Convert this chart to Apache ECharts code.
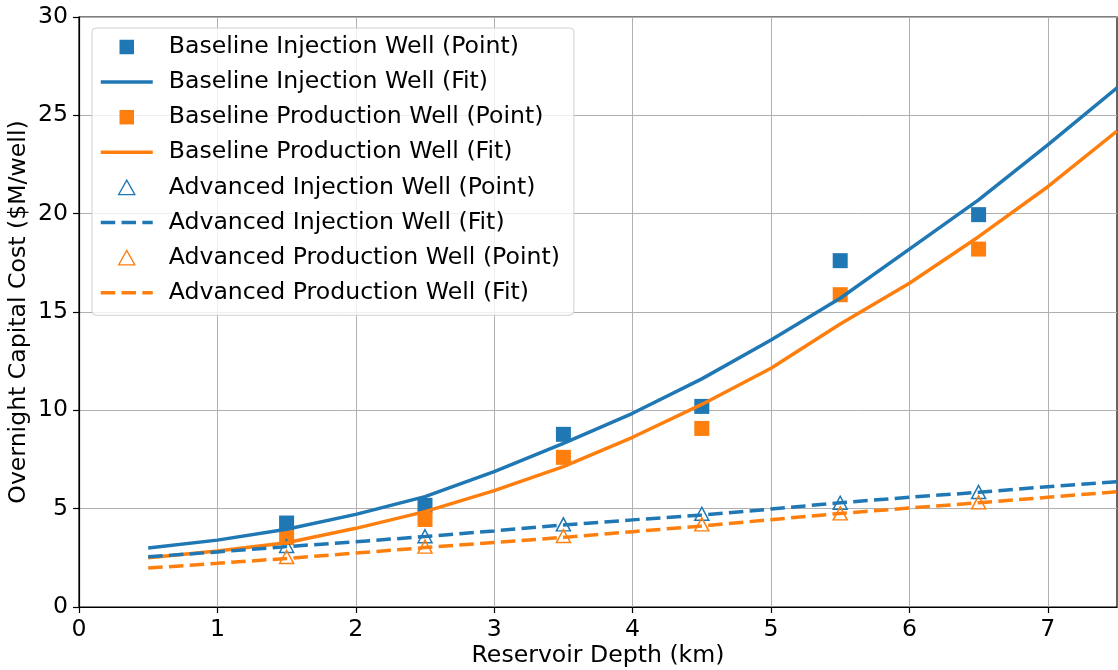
<!DOCTYPE html>
<html>
<head>
<meta charset="utf-8">
<script src="https://cdn.jsdelivr.net/npm/echarts@6/dist/echarts.min.js"></script>
<style>
  html, body { margin: 0; padding: 0; background: #fff; }
  #chart { width: 1118px; height: 670px; }
</style>
</head>
<body>
<div id="chart"></div>
<script>
// Well cost vs. reservoir depth
const pointDepths = [1.5, 2.5, 3.5, 4.5, 5.5, 6.5];
const fitDepths = [0.5, 1, 1.5, 2, 2.5, 3, 3.5, 4, 4.5, 5, 5.5, 6, 6.5, 7, 7.5];

const baselineInjPoints = [4.27, 5.17, 8.78, 10.2, 17.61, 19.95];
const baselineProdPoints = [3.53, 4.45, 7.61, 9.08, 15.88, 18.2];
const advancedInjPoints = [3.1, 3.6, 4.2, 4.74, 5.3, 5.85];
const advancedProdPoints = [2.54, 3.07, 3.61, 4.2, 4.76, 5.32];

const baselineInjFit = [3.0, 3.4, 3.95, 4.71, 5.61, 6.88, 8.32, 9.85, 11.6, 13.58, 15.7, 18.2, 20.7, 23.5, 26.4];
const baselineProdFit = [2.5, 2.85, 3.27, 4.0, 4.85, 5.92, 7.14, 8.63, 10.3, 12.14, 14.39, 16.46, 18.83, 21.37, 24.2];
const advancedInjFit = [2.55, 2.8, 3.07, 3.32, 3.58, 3.87, 4.17, 4.43, 4.68, 4.98, 5.3, 5.58, 5.83, 6.12, 6.37];
const advancedProdFit = [1.98, 2.22, 2.47, 2.74, 3.02, 3.28, 3.54, 3.83, 4.12, 4.44, 4.76, 5.03, 5.3, 5.58, 5.86];

const xTicks = [0, 1, 2, 3, 4, 5, 6, 7];
const yTicks = [0, 5, 10, 15, 20, 25, 30];

const BLUE = '#1f77b4';
const ORANGE = '#ff7f0e';
const FONT = 'DejaVu Sans';
const FS = 23.6;

// legend glyphs (aspect kept by the legend for path icons)
const SQUARE_ICON = 'path://M0,0L14,0L14,14L0,14Z';
const TRIANGLE_ICON = 'path://M7,0L14,12.5L0,12.5Z';

const pair = (xs, ys) => xs.map((x, i) => [x, ys[i]]);
const legendItems = [];

function squareSeries(name, color, values) {
  legendItems.push({ name, icon: SQUARE_ICON });
  return {
    name, type: 'scatter', data: pair(pointDepths, values),
    symbol: 'rect', symbolSize: 15,
    itemStyle: { color, opacity: 1 },
    emphasis: { disabled: true }
  };
}
function triangleSeries(name, color, values) {
  legendItems.push({ name, icon: TRIANGLE_ICON, itemStyle: { borderWidth: 1.3 } });
  return {
    name, type: 'scatter', data: pair(pointDepths, values),
    symbol: 'triangle', symbolSize: [14, 13],
    itemStyle: { color: 'rgba(255,255,255,0)', borderColor: color, borderWidth: 1.5, opacity: 1 },
    emphasis: { disabled: true }
  };
}
function fitSeries(name, color, values, dashed) {
  legendItems.push({ name, itemStyle: { opacity: 0 } });
  return {
    name, type: 'line', data: pair(fitDepths, values),
    symbol: 'none', smooth: false,
    itemStyle: { color },
    lineStyle: { color, width: 3.5, type: dashed ? [14.5, 6.3] : 'solid' },
    emphasis: { disabled: true }
  };
}

const series = [
  squareSeries('Baseline Injection Well (Point)', BLUE, baselineInjPoints),
  fitSeries('Baseline Injection Well (Fit)', BLUE, baselineInjFit, false),
  squareSeries('Baseline Production Well (Point)', ORANGE, baselineProdPoints),
  fitSeries('Baseline Production Well (Fit)', ORANGE, baselineProdFit, false),
  triangleSeries('Advanced Injection Well (Point)', BLUE, advancedInjPoints),
  fitSeries('Advanced Injection Well (Fit)', BLUE, advancedInjFit, true),
  triangleSeries('Advanced Production Well (Point)', ORANGE, advancedProdPoints),
  fitSeries('Advanced Production Well (Fit)', ORANGE, advancedProdFit, true)
];

const chart = echarts.init(document.getElementById('chart'), null, { renderer: 'canvas' });
chart.setOption({
  animation: false,
  backgroundColor: '#fff',
  textStyle: { fontFamily: FONT },
  grid: {
    left: 79, right: 1, top: 17, bottom: 63,
    outerBoundsMode: 'none', containLabel: false,
    show: true, borderColor: '#000', borderWidth: 1.2, backgroundColor: 'transparent'
  },
  legend: {
    data: legendItems,
    orient: 'vertical', left: 92, top: 28,
    padding: [5.5, 14, 9, 7],
    itemWidth: 52, itemHeight: 14.5, itemGap: 8.1,
    lineStyle: { width: 3.5 },
    backgroundColor: 'rgba(255,255,255,0.8)',
    borderColor: '#d0d0d0', borderWidth: 1, borderRadius: 4,
    textStyle: { fontFamily: FONT, fontSize: FS, color: '#000', lineHeight: 27, padding: [0, 0, 0, 11] }
  },
  xAxis: {
    type: 'value', min: 0, max: 7.5, interval: 1,
    name: 'Reservoir Depth (km)', nameLocation: 'middle', nameGap: 37, nameMoveOverlap: false,
    nameTextStyle: { fontFamily: FONT, fontSize: FS, color: '#000' },
    axisLine: { show: true, onZero: false, lineStyle: { color: '#000', width: 1.2 } },
    axisTick: { show: true, inside: false, length: 6, customValues: xTicks, lineStyle: { color: '#000', width: 1.2 } },
    axisLabel: { customValues: xTicks, fontFamily: FONT, fontSize: FS, color: '#000', margin: 11 },
    splitLine: { show: true, lineStyle: { color: '#b0b0b0', width: 1 } }
  },
  yAxis: {
    type: 'value', min: 0, max: 30, interval: 5,
    name: 'Overnight Capital Cost ($M/well)', nameLocation: 'middle', nameGap: 48, nameMoveOverlap: false,
    nameTextStyle: { fontFamily: FONT, fontSize: FS, color: '#000' },
    axisLine: { show: true, onZero: false, lineStyle: { color: '#000', width: 1.2 } },
    axisTick: { show: true, inside: false, length: 6, customValues: yTicks, lineStyle: { color: '#000', width: 1.2 } },
    axisLabel: { customValues: yTicks, fontFamily: FONT, fontSize: FS, color: '#000', margin: 11 },
    splitLine: { show: true, lineStyle: { color: '#b0b0b0', width: 1 } }
  },
  series
});
</script>
</body>
</html>
